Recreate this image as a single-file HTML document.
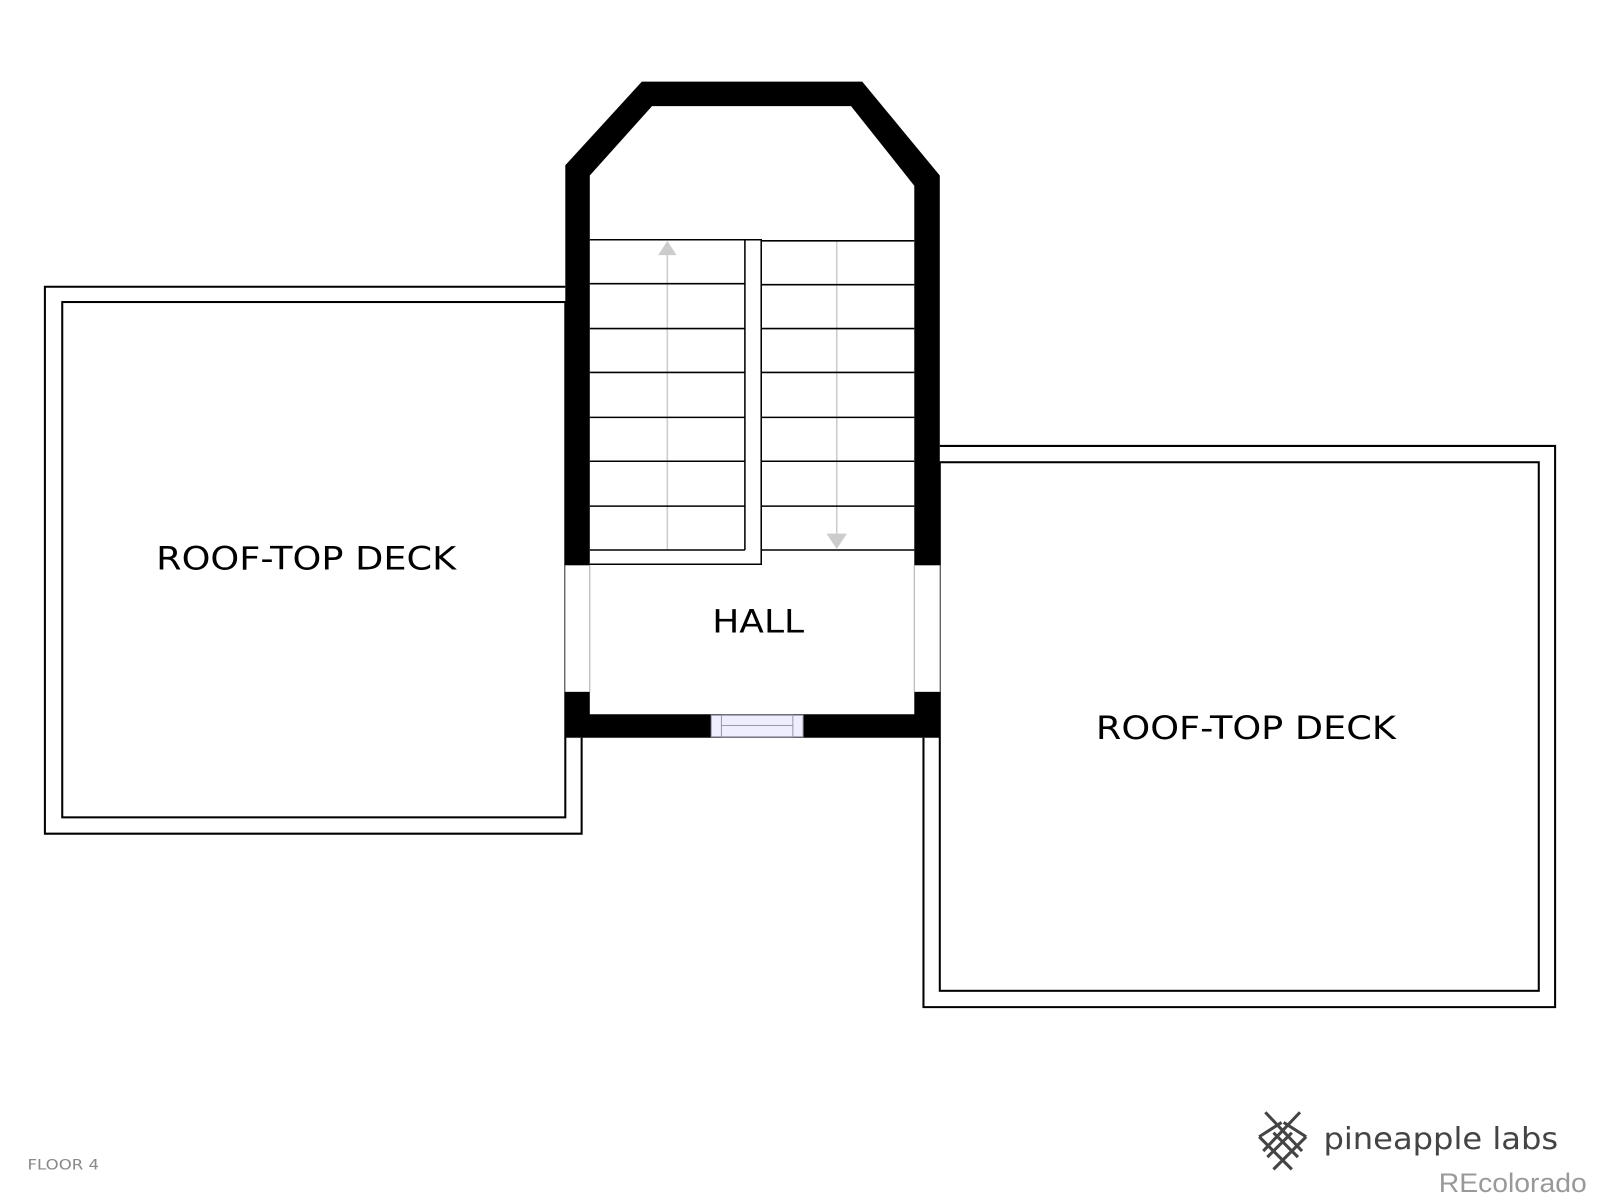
<!DOCTYPE html>
<html><head><meta charset="utf-8"><style>html,body{margin:0;padding:0;background:#fff}svg{display:block}</style></head>
<body>
<svg width="1600" height="1200" viewBox="0 0 1568 1176" xmlns="http://www.w3.org/2000/svg" font-family="'DejaVu Sans', 'Liberation Sans', sans-serif">
<rect width="1568" height="1176" fill="#fff"/>
<g fill="none" stroke="#000" stroke-width="2">
<polyline points="554,281 44,281 44,817 570,817 570,723"/>
<rect x="61" y="296" width="493" height="505"/>
<polyline points="921,437 1524,437 1524,987 905,987 905,723"/>
<rect x="921" y="453" width="587" height="518"/>
</g>
<polygon points="554,162 629,80 845,80 921,172 921,723 554,723" fill="#000"/>
<polygon points="578,172 639,104 834,104 896,182 896,700 578,700" fill="#fff"/>
<rect x="554" y="554" width="24" height="124" fill="#fff"/>
<rect x="896" y="554" width="25" height="124" fill="#fff"/>
<g stroke="#aaa" stroke-width="1">
<line x1="554" y1="554" x2="554" y2="678"/><line x1="578" y1="554" x2="578" y2="678"/>
<line x1="896" y1="554" x2="896" y2="678"/><line x1="921" y1="554" x2="921" y2="678"/>
</g>
<rect x="697" y="701" width="90" height="21" fill="#eef" stroke="#99a" stroke-width="1"/>
<rect x="707" y="701" width="70" height="21" fill="#eef" stroke="#99a" stroke-width="1"/>
<line x1="707" y1="711" x2="777" y2="711" stroke="#99a"/>
<g stroke="#ccc" stroke-width="1.5">
<line x1="654" y1="246" x2="654" y2="539"/>
<line x1="820" y1="236" x2="820" y2="526"/>
</g>
<polygon points="645,250 663,250 654,236" fill="#ccc"/>
<polygon points="810,523 830,523 820,538" fill="#ccc"/>
<g stroke="#000" stroke-width="1.5">
<line x1="578" y1="235" x2="730" y2="235"/><line x1="578" y1="278" x2="730" y2="278"/>
<line x1="578" y1="322" x2="730" y2="322"/><line x1="578" y1="365" x2="730" y2="365"/>
<line x1="578" y1="409" x2="730" y2="409"/><line x1="578" y1="452" x2="730" y2="452"/>
<line x1="578" y1="496" x2="730" y2="496"/><line x1="578" y1="539" x2="730" y2="539"/>
<line x1="746" y1="236" x2="896" y2="236"/><line x1="746" y1="279" x2="896" y2="279"/>
<line x1="746" y1="322" x2="896" y2="322"/><line x1="746" y1="365" x2="896" y2="365"/>
<line x1="746" y1="409" x2="896" y2="409"/><line x1="746" y1="452" x2="896" y2="452"/>
<line x1="746" y1="496" x2="896" y2="496"/><line x1="746" y1="539" x2="896" y2="539"/>
<polyline points="730,539 730,235 746,235 746,553 578,553" fill="none"/>
</g>
<g fill="#000" font-size="31">
<text x="153" y="558" textLength="294" lengthAdjust="spacingAndGlyphs">ROOF-TOP DECK</text>
<text x="1074" y="724" textLength="294" lengthAdjust="spacingAndGlyphs">ROOF-TOP DECK</text>
<text x="698" y="620" textLength="90" lengthAdjust="spacingAndGlyphs">HALL</text>
</g>
<text x="27" y="1146" font-size="14" fill="#888" textLength="70" lengthAdjust="spacingAndGlyphs">FLOOR 4</text>
<g stroke="#444" stroke-width="3" fill="none">
<line x1="1240" y1="1090" x2="1276" y2="1128"/><line x1="1274" y1="1090" x2="1238" y2="1128"/>
<line x1="1234" y1="1114" x2="1266" y2="1146"/><line x1="1280" y1="1114" x2="1248" y2="1146"/>
<line x1="1234" y1="1114" x2="1256" y2="1100"/><line x1="1280" y1="1114" x2="1258" y2="1100"/>
<line x1="1242" y1="1134" x2="1266" y2="1110"/><line x1="1272" y1="1134" x2="1248" y2="1110"/>
</g>
<text x="1297" y="1126" font-size="30" fill="#444" textLength="230" lengthAdjust="spacingAndGlyphs">pineapple labs</text>
<text x="1410" y="1168" font-size="26" fill="#999" textLength="145" lengthAdjust="spacingAndGlyphs" font-family="'Liberation Sans', sans-serif">REcolorado</text>
</svg>
</body></html>
